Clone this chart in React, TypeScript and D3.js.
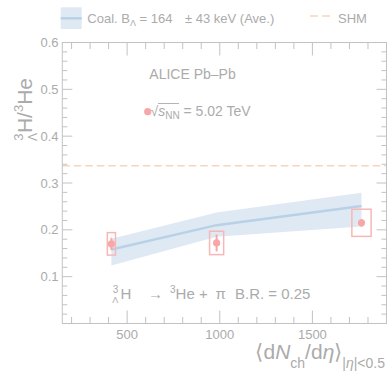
import React from "react";
import * as d3 from "d3";

const multiplicity = [415, 983, 1765];
const ratio = [0.17, 0.172, 0.215];
const statErr = [0.013, 0.018, 0.008];
const systErrY = [0.024, 0.025, 0.029];
const systErrX = [22, 38, 52];
const coalCentral = [0.158, 0.21, 0.251];
const coalLow = [0.124, 0.185, 0.207];
const coalHigh = [0.181, 0.237, 0.279];
const shmValue = 0.337;
const xMajorTicks = [500, 1000, 1500];
const yMajorTicks = [0.1, 0.2, 0.3, 0.4, 0.5, 0.6];

const W = 390;
const H = 374;
const FONT = "'Liberation Sans', Arial, Helvetica, sans-serif";
const TXT = "#ababab";
const AX = "#c2c2c2";
const BAND = "#dfe9f4";
const LINE = "#b9d1e7";
const PT = "#f8a7a7";
const BOX = "#f8b7b7";
const SHM = "#fad3bd";

export default function App() {
  const x = d3.scaleLinear().domain([150, 1900]).range([62.3, 386.5]);
  const y = d3.scaleLinear().domain([0, 0.6]).range([323.5, 42.5]);
  const [x0, x1] = x.range();
  const [yb, yt] = y.range();

  const xMinor = d3.range(200, 1900, 100);
  const yMinor = d3.range(1, 30).map((i) => i * 0.02);

  const area = d3
    .area<number>()
    .x((_, i) => x(multiplicity[i]))
    .y0((_, i) => y(coalLow[i]))
    .y1((_, i) => y(coalHigh[i]));
  const line = d3
    .line<number>()
    .x((_, i) => x(multiplicity[i]))
    .y((d) => y(d));

  const isMajorX = (v: number) => xMajorTicks.includes(v);
  const isMajorY = (v: number) => Math.abs(v * 10 - Math.round(v * 10)) < 1e-6;

  return (
    <svg
      width={W}
      height={H}
      style={{ position: "absolute", left: 0, top: 0, display: "block", background: "#fff" }}
      fontFamily={FONT}
    >
      {/* legend */}
      <rect x={60.7} y={7.3} width={21} height={21.7} fill={BAND} />
      <line x1={60.7} x2={81.7} y1={18.3} y2={18.3} stroke={LINE} strokeWidth={2.5} />
      <text x={87.3} y={22.5} fontSize={13} fill={TXT} style={{ whiteSpace: "pre" }}>
        <tspan>Coal. B</tspan>
        <tspan fontSize={9} dy={3}>Λ</tspan>
        <tspan dy={-3}> = 164</tspan>
        <tspan x={185}>± 43 keV (Ave.)</tspan>
      </text>
      <line x1={310} x2={331} y1={16} y2={16} stroke={SHM} strokeWidth={1.5} strokeDasharray="8,4" />
      <text x={338} y={22.5} fontSize={13} fill={TXT}>SHM</text>

      {/* band and line */}
      <path d={area(multiplicity) || ""} fill={BAND} />
      <path d={line(coalCentral) || ""} fill="none" stroke={LINE} strokeWidth={2.5} />

      {/* SHM line */}
      <line x1={x0} x2={x1} y1={y(shmValue)} y2={y(shmValue)} stroke={SHM} strokeWidth={1.5} strokeDasharray="7.5,4" />

      {/* data */}
      {multiplicity.map((m, i) => (
        <g key={i}>
          <rect
            x={x(m - systErrX[i])}
            y={y(ratio[i] + systErrY[i])}
            width={x(m + systErrX[i]) - x(m - systErrX[i])}
            height={y(ratio[i] - systErrY[i]) - y(ratio[i] + systErrY[i])}
            fill="none"
            stroke={BOX}
            strokeWidth={1.5}
          />
          <line
            x1={x(m)}
            x2={x(m)}
            y1={y(ratio[i] + statErr[i])}
            y2={y(ratio[i] - statErr[i])}
            stroke={PT}
            strokeWidth={2}
          />
          <circle cx={x(m)} cy={y(ratio[i])} r={3.6} fill={PT} />
        </g>
      ))}

      {/* frame */}
      <rect x={x0} y={yt} width={x1 - x0} height={yb - yt} fill="none" stroke={AX} strokeWidth={1} />
      {xMinor.map((v) => {
        const len = isMajorX(v) ? 13 : 6.5;
        return (
          <g key={"x" + v}>
            <line x1={x(v)} x2={x(v)} y1={yb} y2={yb - len} stroke={AX} />
            <line x1={x(v)} x2={x(v)} y1={yt} y2={yt + len} stroke={AX} />
          </g>
        );
      })}
      {yMinor.map((v) => {
        const len = isMajorY(v) ? 10 : 5;
        return (
          <g key={"y" + v}>
            <line x1={x0} x2={x0 + len} y1={y(v)} y2={y(v)} stroke={AX} />
            <line x1={x1} x2={x1 - len} y1={y(v)} y2={y(v)} stroke={AX} />
          </g>
        );
      })}
      {xMajorTicks.map((v) => (
        <text key={"xl" + v} x={x(v)} y={338.5} fontSize={13} fill={TXT} textAnchor="middle">
          {v}
        </text>
      ))}
      {yMajorTicks.map((v) => (
        <text key={"yl" + v} x={58.5} y={y(v)} dy="0.35em" fontSize={13} fill={TXT} textAnchor="end">
          {v.toFixed(1)}
        </text>
      ))}

      {/* axis titles */}
      <text transform="translate(31.5,78) rotate(-90)" textAnchor="end" fontSize={21} fill={TXT}>
        <tspan fontSize={13} dy={-9}>3</tspan>
        <tspan fontSize={12} dx={-7.5} dy={14}>Λ</tspan>
        <tspan dy={-5}>H/</tspan>
        <tspan fontSize={13} dy={-9}>3</tspan>
        <tspan dy={9}>He</tspan>
      </text>
      <text x={385} y={359} textAnchor="end" fontSize={21} fill={TXT}>
        <tspan>⟨d</tspan>
        <tspan fontStyle="italic">N</tspan>
        <tspan fontSize={14} dy={9}>ch</tspan>
        <tspan dy={-9}>/d</tspan>
        <tspan fontStyle="italic">η</tspan>
        <tspan>⟩</tspan>
        <tspan fontSize={14} dy={9}>|</tspan>
        <tspan fontSize={14} fontStyle="italic">η</tspan>
        <tspan fontSize={14}>|&lt;0.5</tspan>
      </text>

      {/* annotations */}
      <text x={149.3} y={78.5} fontSize={14} fill={TXT}>ALICE Pb–Pb</text>
      <circle cx={147.7} cy={111.7} r={3.6} fill={PT} />
      <text x={150.5} y={115.5} fontSize={14} fill={TXT}>
        <tspan>√</tspan>
        <tspan fontStyle="italic">s</tspan>
        <tspan fontSize={10} dy={3}>NN</tspan>
        <tspan dy={-3}> = 5.02 TeV</tspan>
      </text>
      <line x1={158} x2={179} y1={103.5} y2={103.5} stroke={TXT} strokeWidth={0.9} />

      <text y={299} fontSize={15} fill={TXT}>
        <tspan x={112.7} fontSize={10} dy={-6}>3</tspan>
        <tspan x={112.2} fontSize={9} dy={10}>Λ</tspan>
        <tspan x={120.5} dy={-4}>H</tspan>
        <tspan x={148}>→</tspan>
        <tspan x={170} fontSize={10} dy={-6}>3</tspan>
        <tspan dy={6}>He +</tspan>
        <tspan x={215.5}>π</tspan>
        <tspan x={235}>B.R. = 0.25</tspan>
      </text>
    </svg>
  );
}
